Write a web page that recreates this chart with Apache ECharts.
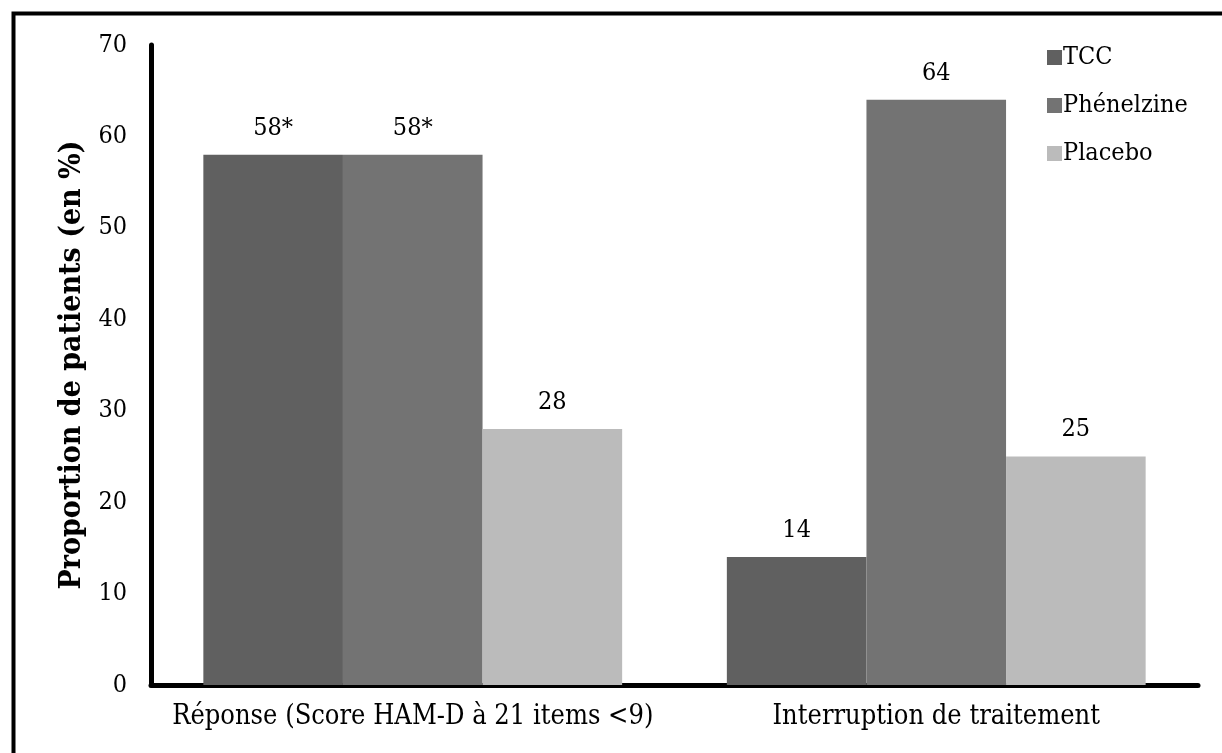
<!DOCTYPE html>
<html>
<head>
<meta charset="utf-8">
<script src="https://cdn.jsdelivr.net/npm/echarts@6/dist/echarts.min.js"></script>
<style>
html,body{margin:0;padding:0;background:#fff;}
#chart{width:1222px;height:753px;}
</style>
</head>
<body>
<div id="chart"></div>
<script>
const categories = ['Réponse (Score HAM-D à 21 items <9)', 'Interruption de traitement'];
const seriesNames = ['TCC', 'Phénelzine', 'Placebo'];
const tccValues = [58, 14];
const phenelzineValues = [58, 64];
const placeboValues = [28, 25];
const tccMarks = ['*', ''];
const phenelzineMarks = ['*', ''];
const placeboMarks = ['', ''];
const yTicks = [0, 10, 20, 30, 40, 50, 60, 70];
const yAxisTitle = 'Proportion de patients (en %)';

const FONT = '"DejaVu Serif Condensed", "DejaVu Serif", serif';
const colors = ['#606060', '#737373', '#bbbbbb'];

function makeSeries(name, values, marks, color) {
  return {
    name: name,
    type: 'bar',
    data: values,
    barGap: '0%',
    barCategoryGap: '20%',
    itemStyle: { color: color },
    label: {
      show: true,
      position: 'top',
      distance: 14,
      fontFamily: FONT,
      fontSize: 25,
      color: '#000',
      formatter: p => p.value + marks[p.dataIndex]
    }
  };
}

const chart = echarts.init(document.getElementById('chart'), null, { renderer: 'canvas' });
chart.setOption({
  animation: false,
  backgroundColor: '#fff',
  textStyle: { fontFamily: FONT },
  graphic: [{
    type: 'rect',
    left: 11, top: 11,
    shape: { width: 1400, height: 1000 },
    style: { fill: 'none', stroke: '#000', lineWidth: 4 },
    z: 10
  }],
  grid: { left: 151, right: 24, top: 45, bottom: 68, containLabel: false },
  legend: {
    orient: 'vertical',
    left: 1042,
    top: 40,
    itemWidth: 15,
    itemHeight: 15,
    itemGap: 23,
    icon: 'rect',
    textStyle: { fontFamily: FONT, fontSize: 25, color: '#000', padding: [0, 0, 0, -4] },
    data: seriesNames
  },
  xAxis: {
    type: 'category',
    data: categories,
    axisLine: { lineStyle: { color: '#000', width: 5 } },
    axisTick: { show: false },
    axisLabel: { fontFamily: FONT, fontSize: 27, color: '#000', margin: 18, interval: 0 }
  },
  yAxis: {
    type: 'value',
    min: yTicks[0],
    max: yTicks[yTicks.length - 1],
    interval: 10,
    name: yAxisTitle,
    nameLocation: 'middle',
    nameGap: 56,
    nameTextStyle: { fontFamily: FONT, fontSize: 30, fontWeight: 'bold', color: '#000' },
    axisLine: { show: true, lineStyle: { color: '#000', width: 5 } },
    axisTick: { show: false },
    splitLine: { show: false },
    axisLabel: { fontFamily: FONT, fontSize: 25, color: '#000', margin: 24 }
  },
  series: [
    makeSeries(seriesNames[0], tccValues, tccMarks, colors[0]),
    makeSeries(seriesNames[1], phenelzineValues, phenelzineMarks, colors[1]),
    makeSeries(seriesNames[2], placeboValues, placeboMarks, colors[2])
  ]
});
</script>
</body>
</html>
